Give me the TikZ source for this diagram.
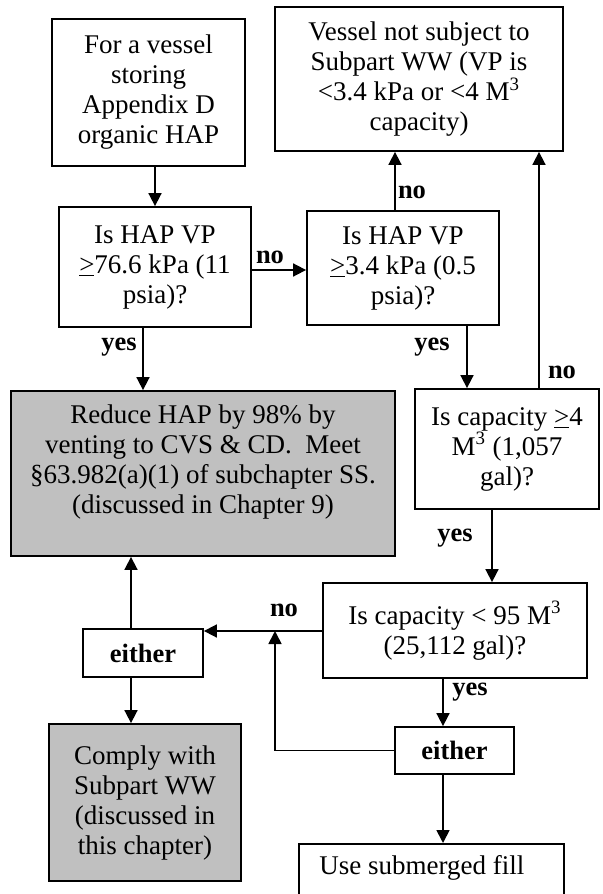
\documentclass[tikz,border=0pt]{standalone}
\usepackage{fontspec}
\setmainfont{Liberation Serif}
\usetikzlibrary{arrows.meta}
\definecolor{boxgray}{HTML}{C0C0C0}
\begin{document}
\begin{tikzpicture}[x=0.5pt,y=-0.5pt,
  font=\fontsize{13.5}{15}\selectfont,
  box/.style={draw,line width=0.9pt,inner sep=0pt,align=center,anchor=center},
  grybox/.style={box,fill=boxgray},
  arr/.style={line width=0.85pt,-{Triangle[length=6.5pt,width=6.5pt]}},
  lab/.style={font=\fontsize{13.25}{15}\selectfont\bfseries,inner sep=0pt}]
\useasboundingbox (0,0) rectangle (602,894);
% boxes
\node[box,minimum width=96.5pt,minimum height=73.5pt] (start) at (148.5,92.5)
  {For a vessel\\storing\\Appendix D\\organic HAP};
\node[box,minimum width=144pt,minimum height=72pt] (notsub) at (419,79)
  {Vessel not subject to\\Subpart WW (VP is\\<3.4 kPa or <4 M\textsuperscript{3}\\capacity)};
\node[box,minimum width=96pt,minimum height=60pt] (q1) at (155,267)
  {Is HAP VP\\\underline{>}76.6 kPa (11\\psia)?};
\node[box,minimum width=96pt,minimum height=57pt] (q2) at (403,268)
  {Is HAP VP\\\underline{>}3.4 kPa (0.5\\psia)?};
\node[box,minimum width=92pt,minimum height=60pt] (q3) at (507,449)
  {Is capacity \underline{>}4\\M\textsuperscript{3} (1,057\\gal)?};
\node[box,minimum width=132pt,minimum height=47.5pt] (q4) at (455,630.5)
  {Is capacity < 95 M\textsuperscript{3}\\(25,112 gal)?};
\node[grybox,minimum width=192pt,minimum height=82.5pt] (reduce) at (203,473.5) {};
\node[align=center,inner sep=0pt] (reducetxt) at (203,462)
  {Reduce HAP by 98\% by\\venting to CVS \& CD.\ \ Meet\\\S63.982(a)(1) of subchapter SS.\\(discussed in Chapter 9)};
\node[box,minimum width=60pt,minimum height=24pt,font=\fontsize{13.25}{15}\selectfont\bfseries] (eitherL) at (143,653) {either};
\node[grybox,minimum width=96pt,minimum height=78.5pt] (comply) at (145,802.5)
  {Comply with\\Subpart WW\\(discussed in\\this chapter)};
\node[box,minimum width=59.5pt,minimum height=23.5pt,font=\fontsize{13.25}{15}\selectfont\bfseries] (eitherR) at (454.5,750.5) {either};
\node[box,minimum width=132.5pt,minimum height=28pt,anchor=north west] (fill) at (298,843) {};
\node[anchor=west,inner sep=0pt] (filltxt) at (319,868) {Use submerged fill};
% connectors
\draw[arr] (start.south -| q1.north) -- (q1.north);
\coordinate (q1e) at ([yshift=-1.5pt]q1.east);
\draw[arr] (q1e) -- (q1e -| q2.west);
\draw[arr] ([xshift=-4pt]q2.north) -- ([xshift=-4pt]q2.north |- notsub.south);
\draw[arr] ([xshift=32pt]q2.south) -- ([xshift=32pt]q2.south |- q3.north);
\draw[arr] ([xshift=16pt]q3.north) -- ([xshift=16pt]q3.north |- notsub.south);
\draw[arr] ([xshift=-6pt]q1.south) -- ([xshift=-6pt]q1.south |- reduce.north);
\draw[arr] ([xshift=-7.5pt]q3.south) -- ([xshift=-7.5pt]q3.south |- q4.north);
\coordinate (qn) at ([yshift=-0.25pt]q4.west);
\draw[arr] (qn) -- (qn -| eitherL.east);
\coordinate (j) at (275,631);
\draw[arr] (eitherR.west) -| (j);
\draw[arr] ([xshift=-6pt]eitherL.north) -- ([xshift=-6pt]eitherL.north |- reduce.south);
\draw[arr] ([xshift=-6pt]eitherL.south) -- ([xshift=-6pt]eitherL.south |- comply.north);
\coordinate (qy) at (443,678);
\draw[arr] (q4.south -| qy) -- (eitherR.north -| qy);
\draw[arr] (eitherR.south -| qy) -- (fill.north -| qy);
% labels
\node[lab] (l1) at (270,257) {no};
\node[lab] (l2) at (412,192) {no};
\node[lab] (l3) at (432,347) {yes};
\node[lab] (l4) at (562,372) {no};
\node[lab] (l5) at (119,347) {yes};
\node[lab] (l6) at (455,538) {yes};
\node[lab] (l7) at (284,610) {no};
\node[lab] (l8) at (470,692) {yes};
\end{tikzpicture}
\end{document}
